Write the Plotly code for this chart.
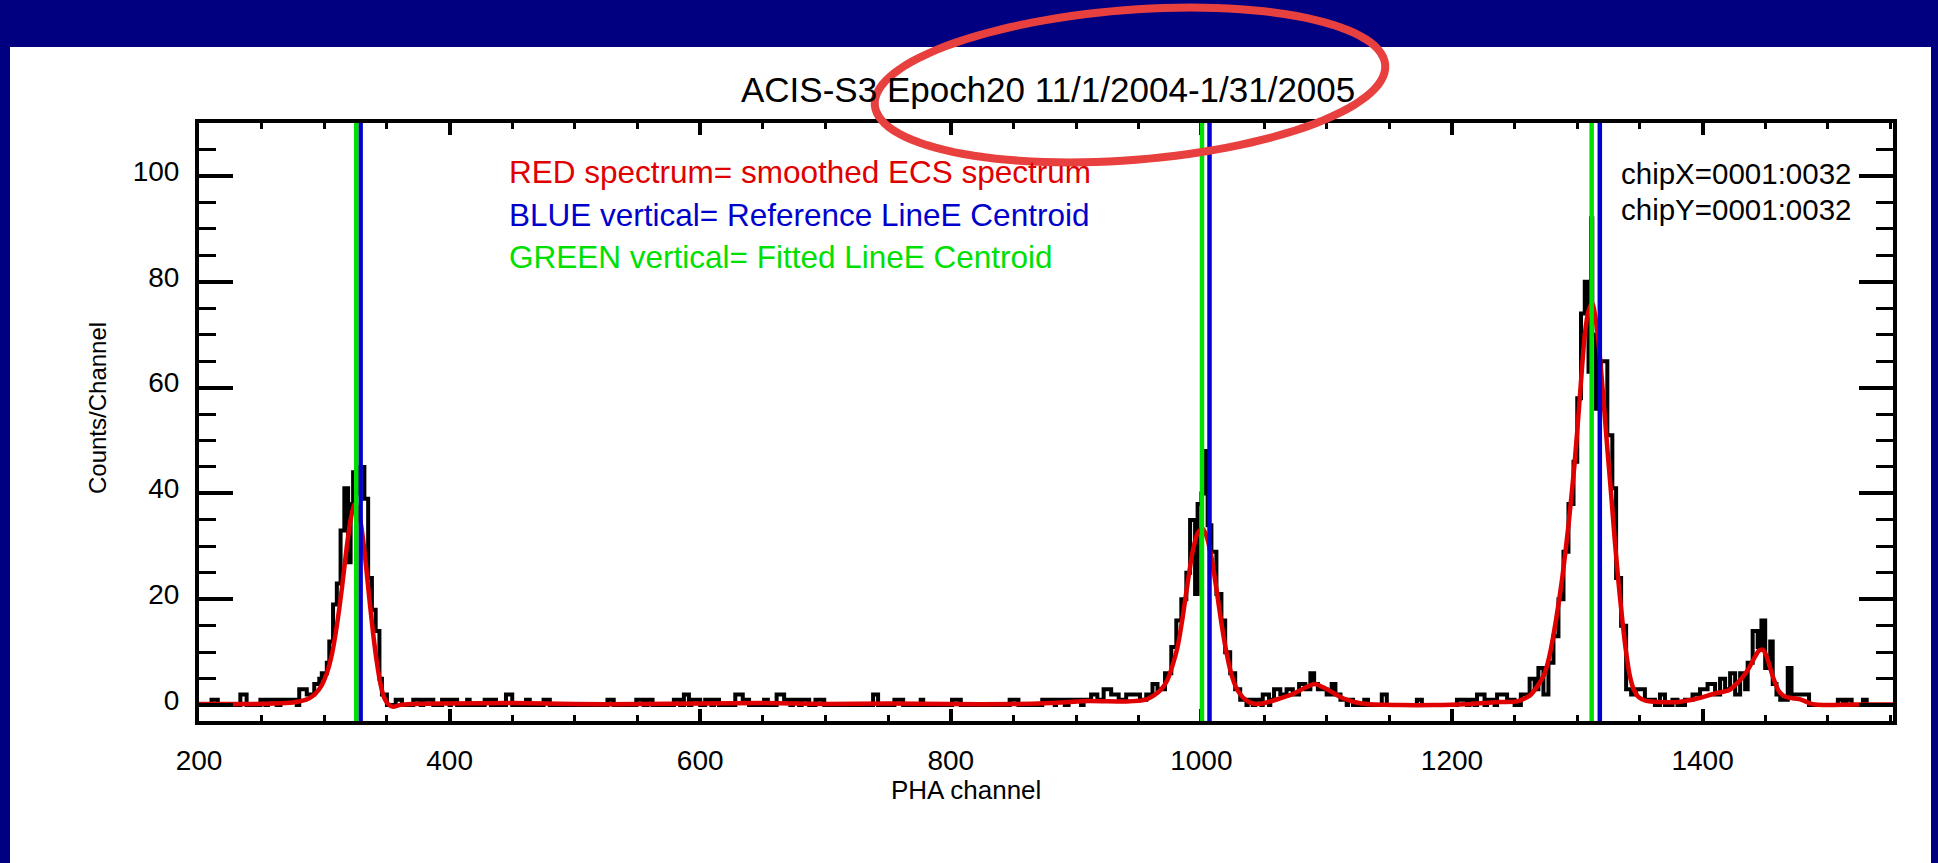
import numpy as np
import plotly.graph_objects as go

# ---------------- data ----------------
channel_range = [200, 1552]
count_range = [-3, 110]

# ECS event histogram as step segments: (first channel, end channel, counts/channel)
bkg_low = [
    (210, 215, 1), (233, 238, 2), (249, 253, 1), (255, 262, 1), (265, 278, 1),
    (280, 286, 3), (286, 292, 2),
]
al_ka = [
    (292, 296, 4), (296, 298, 5), (298, 302, 6), (302, 304, 8), (304, 307, 12),
    (307, 310, 19), (310, 313, 23), (313, 316, 33), (316, 319, 41), (319, 321, 27),
    (321, 323, 38), (323, 326, 44), (326, 328, 40), (328, 332, 45), (332, 335, 39),
    (335, 338, 24), (338, 341, 18), (341, 344, 14), (344, 346, 5), (346, 350, 2),
]
bkg_mid = [
    (357, 362, 1), (371, 377, 1), (379, 387, 1), (394, 400, 1), (401, 406, 1),
    (414, 416, 1), (428, 433, 1), (434, 437, 1), (445, 450, 2), (461, 464, 1),
    (475, 480, 1), (526, 531, 1), (549, 555, 1), (558, 562, 1), (579, 584, 1),
    (587, 591, 2), (593, 600, 1), (604, 609, 1), (611, 615, 1), (628, 634, 2),
    (634, 639, 1), (651, 654, 1), (661, 667, 2), (667, 672, 1), (674, 679, 1),
    (681, 687, 1), (692, 699, 1), (738, 742, 2), (755, 762, 1), (776, 778, 1),
    (801, 808, 1), (847, 854, 1), (873, 883, 1), (884, 891, 1), (894, 904, 1),
    (906, 912, 1), (912, 917, 2), (917, 922, 1), (922, 928, 3), (928, 934, 2),
    (934, 940, 1), (940, 946, 2), (946, 951, 2),
]
ti_ka = [
    (951, 956, 1), (956, 961, 2), (961, 965, 4), (965, 971, 3), (971, 976, 6),
    (976, 980, 11), (980, 984, 16), (984, 988, 20), (988, 991, 25), (991, 995, 35),
    (995, 997, 21), (997, 1000, 38), (1000, 1002, 40), (1002, 1005, 48),
    (1005, 1008, 34), (1008, 1012, 29), (1012, 1016, 21), (1016, 1019, 16),
    (1019, 1023, 10), (1023, 1027, 6), (1027, 1031, 3), (1031, 1036, 1),
    (1037, 1041, 1), (1043, 1048, 1),
]
ti_kb = [
    (1049, 1054, 2), (1055, 1058, 1), (1058, 1063, 3), (1063, 1068, 2),
    (1068, 1073, 3), (1073, 1078, 2), (1078, 1083, 4), (1083, 1087, 3),
    (1087, 1090, 6), (1090, 1093, 4), (1093, 1100, 3), (1100, 1104, 2),
    (1104, 1107, 4), (1107, 1111, 2), (1111, 1116, 1), (1117, 1121, 1),
    (1130, 1133, 1),
]
bkg_high = [
    (1144, 1148, 2), (1172, 1176, 1), (1204, 1212, 1), (1214, 1218, 1),
    (1220, 1226, 2), (1228, 1234, 1), (1236, 1244, 2), (1244, 1250, 1),
    (1255, 1262, 2),
]
mn_ka = [
    (1262, 1266, 5), (1266, 1269, 3), (1269, 1273, 7), (1273, 1277, 2),
    (1277, 1281, 8), (1281, 1285, 13), (1285, 1289, 20), (1289, 1293, 29),
    (1293, 1297, 38), (1297, 1300, 46), (1300, 1303, 58), (1303, 1306, 74),
    (1306, 1309, 80), (1309, 1311, 63), (1311, 1312, 92), (1312, 1315, 70),
    (1315, 1319, 56), (1319, 1324, 65), (1324, 1328, 51), (1328, 1331, 41),
    (1331, 1335, 24), (1335, 1339, 15), (1339, 1343, 3), (1343, 1347, 2),
    (1347, 1354, 3), (1354, 1362, 1), (1366, 1370, 2),
]
mn_kb = [
    (1376, 1380, 1), (1386, 1392, 1), (1392, 1398, 2), (1398, 1404, 3),
    (1404, 1410, 4), (1410, 1414, 2), (1414, 1418, 5), (1418, 1422, 3),
    (1422, 1426, 6), (1426, 1430, 2), (1430, 1434, 6), (1434, 1436, 3),
    (1436, 1440, 8), (1440, 1444, 14), (1444, 1447, 11), (1447, 1450, 16),
    (1450, 1454, 7), (1454, 1456, 12), (1456, 1459, 4), (1459, 1462, 2),
    (1462, 1468, 1), (1468, 1471, 7), (1471, 1475, 2), (1475, 1485, 2),
    (1508, 1512, 1), (1515, 1519, 1), (1528, 1531, 1),
]

# Smoothed ECS spectrum (red curve)
smooth_channel = [
    200, 230, 260, 275, 282, 288, 293, 298, 302, 306, 310, 314, 318, 321, 324,
    327, 330, 333, 336, 339, 342, 345, 348, 351, 355, 360, 370, 400, 450, 500,
    550, 600, 650, 700, 750, 800, 850, 880, 910, 940, 955, 963, 968, 973, 977,
    981, 985, 989, 993, 997, 1001, 1004, 1008, 1012, 1016, 1020, 1024, 1028,
    1033, 1038, 1044, 1052, 1062, 1072, 1082, 1090, 1098, 1106, 1114, 1122,
    1132, 1160, 1185, 1210, 1238, 1252, 1262, 1268, 1274, 1278, 1283, 1288,
    1293, 1298, 1302, 1306, 1309, 1312, 1315, 1318, 1321, 1324, 1327, 1330,
    1333, 1336, 1339, 1342, 1345, 1349, 1355, 1365, 1380, 1395, 1410, 1421,
    1427, 1432, 1437, 1441, 1445, 1448, 1451, 1454, 1457, 1461, 1466, 1472,
    1478, 1485, 1490, 1500, 1520, 1552,
]
smooth_counts = [
    0.2, 0.2, 0.3, 0.5, 0.8, 1.3, 2.2, 3.8, 6.0, 9.5, 15.0, 22.0, 30.0, 35.0, 38.0,
    37.0, 33.0, 27.0, 20.0, 13.5, 8.0, 3.8, 1.3, 0.2, -0.3, 0.0, 0.2, 0.3, 0.4, 0.2,
    0.2, 0.3, 0.4, 0.2, 0.3, 0.2, 0.2, 0.4, 0.8, 0.7, 1.0, 2.0, 3.0, 4.8, 7.5,
    11.0, 16.5, 23.0, 29.0, 32.5, 33.4, 32.0, 28.0, 22.0, 15.5, 10.0, 5.8, 3.2,
    1.5, 0.6, 0.2, 0.5, 1.2, 2.0, 3.2, 4.0, 3.3, 2.2, 1.2, 0.6,
    0.2, 0.0, 0.0, 0.15, 0.6, 0.7, 1.8, 3.5, 6.0, 9.5, 16.0, 24.0,
    34.0, 46.0, 58.0, 70.0, 74.5, 76.0, 72.5, 66.0, 57.5, 48.5, 40.0, 31.0,
    23.0, 16.0, 10.0, 5.5, 3.0, 1.5, 0.8, 0.6, 0.6, 1.2, 2.2, 2.8,
    4.0, 5.3, 7.0, 8.8, 10.3, 10.5, 9.3, 7.0, 4.8, 2.6, 1.6, 1.3,
    1.1, 0.4, 0.1, 0.0, 0.1, 0.1,
]

# Line-energy centroids (PHA channel)
reference_centroid = [329, 1006.5, 1318]
fitted_centroid = [325.5, 1000.5, 1311.5]

title_text = "ACIS-S3 Epoch20 11/1/2004-1/31/2005"
note_lines = [
    ("RED spectrum= smoothed ECS spectrum", "#e00000"),
    ("BLUE vertical= Reference LineE Centroid", "#0000cc"),
    ("GREEN vertical= Fitted LineE Centroid", "#00e000"),
]
chip_lines = ["chipX=0001:0032", "chipY=0001:0032"]

# ---------------- build histogram ----------------
lo, hi = channel_range
counts = np.zeros(hi - lo)
for seg in (bkg_low, al_ka, bkg_mid, ti_ka, ti_kb, bkg_high, mn_ka, mn_kb):
    for a, b, c in seg:
        counts[a - lo:b - lo] = c
hist_x = np.arange(lo, hi + 1)
hist_y = np.append(counts, counts[-1])

# ---------------- page geometry (pixels) ----------------
W, H = 1938, 863
PL, PR, PT, PB = 199, 1893, 123, 721


def px(x):
    return (x - PL) / (PR - PL)


def py(y):
    return (PB - y) / (PB - PT)


FONT = "Liberation Sans, Arial, Helvetica, sans-serif"

fig = go.Figure()
fig.add_trace(go.Scatter(
    x=hist_x, y=hist_y, mode="lines", line=dict(color="black", width=4, shape="hv"),
    hoverinfo="skip", showlegend=False,
))
fig.add_trace(go.Scatter(
    x=smooth_channel, y=smooth_counts, mode="lines",
    line=dict(color="#e00000", width=4.5, shape="spline", smoothing=0.6),
    hoverinfo="skip", showlegend=False,
))

shapes = [
    # white page behind the plot
    dict(type="rect", xref="paper", yref="paper", layer="below",
         x0=px(10), x1=px(1931), y0=py(863), y1=py(47),
         fillcolor="white", line=dict(width=0)),
]
for c in reference_centroid:
    shapes.append(dict(type="line", xref="x", yref="y domain", x0=c, x1=c, y0=0, y1=1,
                       line=dict(color="#0000d0", width=4.5), layer="above"))
for c in fitted_centroid:
    shapes.append(dict(type="line", xref="x", yref="y domain", x0=c, x1=c, y0=0, y1=1,
                       line=dict(color="#00e000", width=4.5), layer="above"))

# hand-drawn highlight ellipse around the epoch label
ecx, ecy, ea, eb, eang = 1130, 85, 256, 75, -4.5
t = np.linspace(0, 2 * np.pi, 121)
th = np.deg2rad(eang)
ex = ecx + ea * np.cos(t) * np.cos(th) - eb * np.sin(t) * np.sin(th)
ey = ecy + ea * np.cos(t) * np.sin(th) + eb * np.sin(t) * np.cos(th)
path = "M " + " L ".join(f"{px(a):.5f},{py(b):.5f}" for a, b in zip(ex, ey)) + " Z"
shapes.append(dict(type="path", xref="paper", yref="paper", path=path, layer="above",
                   line=dict(color="#e8403f", width=8)))

annotations = [
    dict(text=title_text, x=px(1048), y=py(90), xref="paper", yref="paper",
         xanchor="center", yanchor="middle", showarrow=False,
         font=dict(family=FONT, size=35, color="black")),
    dict(text="PHA channel", x=px(966), y=py(790), xref="paper", yref="paper",
         xanchor="center", yanchor="middle", showarrow=False,
         font=dict(family=FONT, size=26, color="black")),
    dict(text="Counts/Channel", x=px(97), y=py(408), xref="paper", yref="paper",
         xanchor="center", yanchor="middle", showarrow=False, textangle=-90,
         font=dict(family=FONT, size=24, color="black")),
]
for i, (txt, col) in enumerate(note_lines):
    annotations.append(dict(text=txt, x=px(507), y=py(172 + 42.7 * i),
                            xref="paper", yref="paper", xanchor="left", yanchor="middle",
                            showarrow=False, font=dict(family=FONT, size=31.5, color=col)))
for i, txt in enumerate(chip_lines):
    annotations.append(dict(text=txt, x=px(1853), y=py(173 + 36 * i),
                            xref="paper", yref="paper", xanchor="right", yanchor="middle",
                            showarrow=False, font=dict(family=FONT, size=29.5, color="black")))

fig.update_layout(
    width=W, height=H,
    margin=dict(l=PL, r=W - PR, t=PT, b=H - PB, pad=0),
    paper_bgcolor="#000080", plot_bgcolor="white",
    shapes=shapes, annotations=annotations,
    showlegend=False,
)
fig.update_xaxes(
    range=channel_range, tickmode="linear", tick0=200, dtick=200,
    ticks="inside", ticklen=12, tickwidth=3.5, tickcolor="black",
    showline=True, linewidth=4, linecolor="black", mirror="ticks",
    minor=dict(dtick=50, tick0=200, ticks="inside", ticklen=6, tickwidth=3, tickcolor="black"),
    showgrid=False, zeroline=False,
    tickfont=dict(family=FONT, size=28, color="black"), ticklabelstandoff=11,
)
fig.update_yaxes(
    range=count_range, tickmode="linear", tick0=0, dtick=20,
    ticks="inside", ticklen=34, tickwidth=3.5, tickcolor="black",
    showline=True, linewidth=4, linecolor="black", mirror="ticks",
    minor=dict(dtick=5, tick0=0, ticks="inside", ticklen=17, tickwidth=3, tickcolor="black"),
    showgrid=False, zeroline=False,
    tickfont=dict(family=FONT, size=28, color="black"), ticklabelstandoff=10,
    ticklabelshift=-5,
)

fig.write_html("out.html")
